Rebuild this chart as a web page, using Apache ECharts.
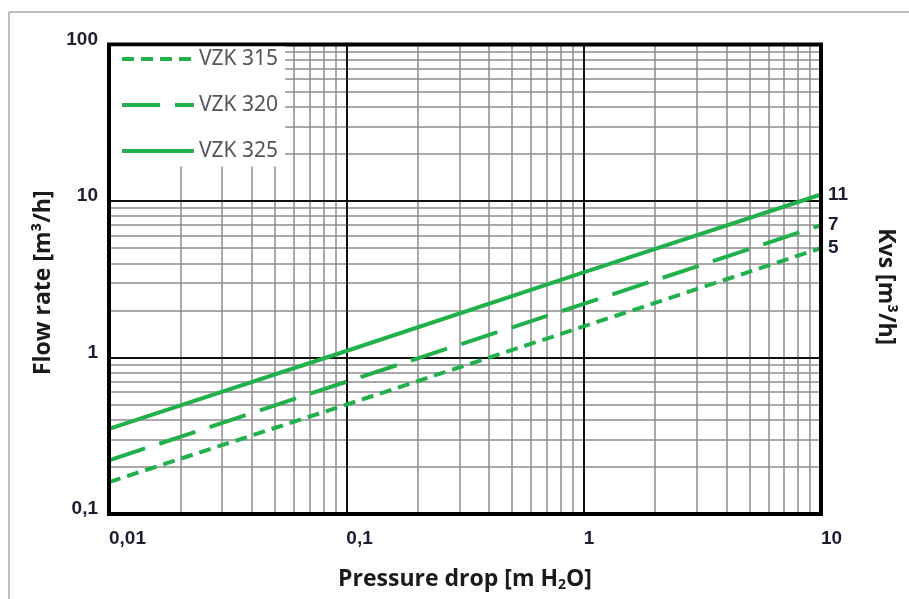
<!DOCTYPE html>
<html>
<head>
<meta charset="utf-8">
<script src="https://cdn.jsdelivr.net/npm/echarts@6/dist/echarts.min.js"></script>
<style>html,body{margin:0;padding:0;background:#fff;}#c{width:909px;height:599px;}</style>
</head>
<body>
<div id="c"></div>
<script>
// ---- data ----
const pressureDrop = [0.01, 0.1, 1, 10];          // m H2O
const vzk315 = [0.16, 0.5, 1.58, 5];               // m3/h
const vzk320 = [0.22, 0.7, 2.2, 7];
const vzk325 = [0.35, 1.1, 3.5, 11];
const kvsLabels = ['5', '7', '11'];
const seriesNames = ['VZK 315', 'VZK 320', 'VZK 325'];
const xTickLabels = ['0,01', '0,1', '1', '10'];
const yTickLabels = ['0,1', '1', '10', '100'];
const minorFactors = [2, 3, 4, 5, 6, 7, 8, 9];
const xDecades = [0.01, 0.1, 1];
const yDecades = [0.1, 1, 10];

const GREEN = '#21b04b';
const MINOR = '#8c8c8c';

function pairs(ys) { return pressureDrop.map((x, i) => [x, ys[i]]); }

const minorX = [];
xDecades.forEach(d => minorFactors.forEach(f => minorX.push({ xAxis: +(d * f).toPrecision(3) })));
const minorY = [];
yDecades.forEach(d => minorFactors.forEach(f => minorY.push({ yAxis: +(d * f).toPrecision(3) })));
const majorX = [0.1, 1].map(v => ({ xAxis: v }));
const majorY = [1, 10].map(v => ({ yAxis: v }));

function xLabel(v) { const i = Math.round(Math.log10(v)) + 2; return xTickLabels[i] || ''; }
function yLabel(v) { const i = Math.round(Math.log10(v)) + 1; return yTickLabels[i] || ''; }

const chart = echarts.init(document.getElementById('c'), null, { renderer: 'canvas' });

const TICKFONT = { fontFamily: 'Liberation Sans', fontWeight: 'bold', fontSize: 19, color: '#1d1d33' };
const endLabelStyle = Object.assign({ show: true, distance: 7 }, TICKFONT);
const TITLEFONT = { fontFamily: 'Open Sans', fontWeight: 'bold', fontSize: 23, color: '#1a1a1a' };

chart.setOption({
  animation: false,
  backgroundColor: '#fff',
  graphic: [
    { type: 'line', shape: { x1: 9, y1: 12, x2: 909, y2: 12 }, style: { stroke: '#a8a8a8', lineWidth: 1.5 }, silent: true },
    { type: 'line', shape: { x1: 9, y1: 12, x2: 9, y2: 599 }, style: { stroke: '#a8a8a8', lineWidth: 1.5 }, silent: true }
  ],
  grid: { left: 109, right: 88, top: 44.5, bottom: 85, show: true, borderColor: '#000', borderWidth: 4, z: 10 },
  legend: {
    orient: 'vertical', left: 111, top: 46.5,
    backgroundColor: '#fff', padding: [2, 7, 5, 9],
    itemWidth: 72, itemHeight: 20, itemGap: 25,
    itemStyle: { opacity: 0, borderWidth: 0 },
    lineStyle: { width: 4 },
    textStyle: { fontFamily: 'Noto Sans', fontSize: 21, lineHeight: 20, color: '#555' },
    data: seriesNames, z: 20, selectedMode: false
  },
  xAxis: {
    type: 'log', logBase: 10, min: 0.01, max: 10,
    name: 'Pressure drop [m H{sub|2}O]', nameLocation: 'middle', nameGap: 52,
    nameTextStyle: Object.assign({
      rich: { sub: { fontFamily: 'Open Sans', fontWeight: 'bold', fontSize: 14, color: '#1a1a1a', padding: [12, 0, 0, 0] } }
    }, TITLEFONT),
    axisLine: { show: false }, axisTick: { show: false },
    splitLine: { show: true, lineStyle: { color: '#000', width: 1.5 } },
    axisLabel: Object.assign({ formatter: xLabel, align: 'left', margin: 15 }, TICKFONT)
  },
  yAxis: [{
    type: 'log', logBase: 10, min: 0.1, max: 100,
    name: 'Flow rate [m³/h]', nameLocation: 'middle', nameGap: 52, nameRotate: 90,
    nameTextStyle: Object.assign({ padding: [0, 7, 0, 0] }, TITLEFONT),
    axisLine: { show: false }, axisTick: { show: false },
    splitLine: { show: true, lineStyle: { color: '#000', width: 1.5 } },
    axisLabel: Object.assign({ formatter: yLabel, margin: 11, verticalAlign: 'bottom', lineHeight: 10 }, TICKFONT)
  }, {
    type: 'log', logBase: 10, min: 0.1, max: 100, position: 'right',
    name: 'Kvs [m³/h]', nameLocation: 'middle', nameGap: 53, nameRotate: -90,
    nameTextStyle: Object.assign({ padding: [0, 0, 0, 15] }, TITLEFONT),
    axisLine: { show: false }, axisTick: { show: false }, splitLine: { show: false }, axisLabel: { show: false }
  }],
  series: [
    {
      name: 'gridlines', type: 'line', data: [], silent: true, z: 1,
      markLine: { silent: true, z: 1, symbol: 'none', label: { show: false }, animation: false,
        lineStyle: { color: MINOR, width: 1.5, type: 'solid' }, data: minorX.concat(minorY) }
    },
    {
      name: 'majorlines', type: 'line', data: [], silent: true, z: 1,
      markLine: { silent: true, z: 1, symbol: 'none', label: { show: false }, animation: false,
        lineStyle: { color: '#000', width: 1.5, type: 'solid' }, data: majorX.concat(majorY) }
    },
    {
      name: seriesNames[0], type: 'line', data: pairs(vzk315), symbol: 'none', z: 3,
      lineStyle: { color: GREEN, width: 4, type: [12, 7] }, itemStyle: { color: GREEN },
      endLabel: Object.assign({ formatter: kvsLabels[0] }, endLabelStyle)
    },
    {
      name: seriesNames[1], type: 'line', data: pairs(vzk320), symbol: 'none', z: 3,
      lineStyle: { color: GREEN, width: 4, type: [38, 15] }, itemStyle: { color: GREEN },
      endLabel: Object.assign({ formatter: kvsLabels[1] }, endLabelStyle)
    },
    {
      name: seriesNames[2], type: 'line', data: pairs(vzk325), symbol: 'none', z: 3,
      lineStyle: { color: GREEN, width: 4, type: 'solid' }, itemStyle: { color: GREEN },
      endLabel: Object.assign({ formatter: kvsLabels[2] }, endLabelStyle)
    }
  ]
});
</script>
</body>
</html>
